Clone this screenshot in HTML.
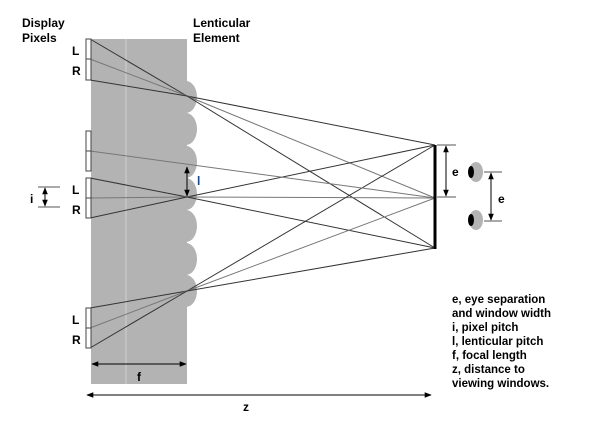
<!DOCTYPE html>
<html><head><meta charset="utf-8"><style>
html,body{margin:0;padding:0;background:#fff;}
svg{display:block;font-family:"Liberation Sans",Arial,sans-serif;font-weight:bold;}
</style></head><body>
<svg width="591" height="444" viewBox="0 0 591 444">
<defs>
<marker id="ah" viewBox="0 0 10 10" refX="9" refY="5" markerWidth="7" markerHeight="7" orient="auto-start-reverse"><path d="M0,1 L10,5 L0,9 z" fill="#000"/></marker>
</defs>
<g>
<rect x="91" y="39" width="96" height="345" fill="#b3b3b3"/>
<line x1="126" y1="39" x2="126" y2="384" stroke="#d0d0d0" stroke-width="1"/>
<g id="bumps" fill="#b3b3b3"></g>
</g>
<g id="rays" stroke-width="1" fill="none"></g>
<g fill="#fff" stroke="#444" stroke-width="1">
<rect x="86" y="39" width="5" height="20"/><rect x="86" y="59" width="5" height="21"/>
<rect x="86" y="131" width="5" height="20"/><rect x="86" y="151" width="5" height="20"/>
<rect x="86" y="178" width="5" height="20"/><rect x="86" y="198" width="5" height="20"/>
<rect x="86" y="308" width="5" height="20"/><rect x="86" y="328" width="5" height="20"/>
</g>
<g font-size="12" fill="#000">
<text x="22" y="27">Display</text>
<text x="22" y="42">Pixels</text>
<text x="193" y="27">Lenticular</text>
<text x="193" y="42">Element</text>
<text x="72" y="55">L</text><text x="72" y="75">R</text>
<text x="72" y="194">L</text><text x="72" y="214">R</text>
<text x="72" y="324">L</text><text x="72" y="344">R</text>
<text x="30" y="203">i</text>
<text x="197" y="185" fill="#1a4a8a">l</text>
<text x="137" y="381">f</text>
<text x="243" y="411">z</text>
<text x="452" y="176">e</text>
<text x="498" y="203">e</text>
</g>
<g stroke="#000" stroke-width="1" fill="none">
<line x1="38" y1="187" x2="60" y2="187" stroke="#555"/><line x1="38" y1="207" x2="60" y2="207" stroke="#555"/>
<line x1="45" y1="188" x2="45" y2="206" marker-start="url(#ah)" marker-end="url(#ah)"/>
<line x1="187" y1="167" x2="187" y2="196" marker-start="url(#ah)" marker-end="url(#ah)"/>
<line x1="92" y1="364" x2="186" y2="364" marker-start="url(#ah)" marker-end="url(#ah)"/>
<line x1="87" y1="395" x2="431" y2="395" marker-start="url(#ah)" marker-end="url(#ah)"/>
<line x1="435" y1="145" x2="435" y2="249" stroke-width="3"/>
<line x1="437" y1="145" x2="456" y2="145" stroke="#555"/><line x1="437" y1="197" x2="456" y2="197" stroke="#555"/>
<line x1="446" y1="146" x2="446" y2="196" marker-start="url(#ah)" marker-end="url(#ah)"/>
<line x1="484" y1="172" x2="502" y2="172" stroke="#555"/><line x1="484" y1="221" x2="502" y2="221" stroke="#555"/>
<line x1="491" y1="173" x2="491" y2="220" marker-start="url(#ah)" marker-end="url(#ah)"/>
</g>
<g><ellipse cx="476" cy="172" rx="7" ry="10" fill="#b3b3b3"/><ellipse cx="471" cy="172" rx="3" ry="6" fill="#000"/></g>
<g><ellipse cx="476" cy="220" rx="7" ry="10" fill="#b3b3b3"/><ellipse cx="471" cy="220" rx="3" ry="6" fill="#000"/></g>
<g font-size="11.5" fill="#000">
<text x="452" y="303">e, eye separation</text>
<text x="452" y="317">and window width</text>
<text x="452" y="331">i, pixel pitch</text>
<text x="452" y="345">l, lenticular pitch</text>
<text x="452" y="359">f, focal length</text>
<text x="452" y="373">z, distance to</text>
<text x="452" y="387">viewing windows.</text>
</g>
</svg>
<script>
const NS="http://www.w3.org/2000/svg";
const bumpTops=[81,113,146,178,210,243,275];
const bumpH=32;
const bg=document.getElementById('bumps');
bumpTops.forEach(t=>{const e=document.createElementNS(NS,'ellipse');


e.setAttribute('cx',186);e.setAttribute('cy',t+bumpH/2);e.setAttribute('rx',11);e.setAttribute('ry',bumpH/2);bg.appendChild(e);});
const lensY=[96,197,291];
const pixelEdges=[[39,59,80],[178,198,218],[308,328,348]];
const windowY=[145,198,248];
const shades=['#333','#777','#333'];
const rg=document.getElementById('rays');
function ln(x1,y1,x2,y2,c){const l=document.createElementNS(NS,'line');


l.setAttribute('x1',x1);l.setAttribute('y1',y1);l.setAttribute('x2',x2);l.setAttribute('y2',y2);l.setAttribute('stroke',c);rg.appendChild(l);}
lensY.forEach((ly,g)=>{pixelEdges[g].forEach((py,k)=>ln(90,py,187,ly,shades[k]));windowY.forEach((wy,k)=>ln(187,ly,435,wy,shades[k]));});
ln(90,151,435,198,'#777');
</script>
</body></html>
